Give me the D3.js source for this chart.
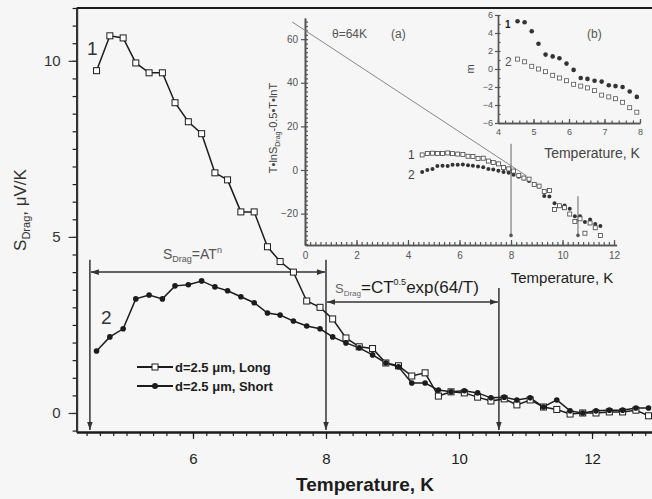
<!DOCTYPE html>
<html>
<head>
<meta charset="utf-8">
<script src="https://cdn.jsdelivr.net/npm/d3@7"></script>
<style>
body { margin: 0; background: #f6f6f6; }
svg { display: block; font-family: "Liberation Sans", Arial, sans-serif; }
</style>
</head>
<body>
<div id="chart"></div>
<script>
// Main panel: drag thermopower vs temperature
const temps = [4.55, 4.75, 4.95, 5.14, 5.34, 5.54, 5.73, 5.93, 6.13, 6.33,
	6.52, 6.72, 6.92, 7.12, 7.31, 7.51, 7.71, 7.91, 8.10, 8.30,
	8.50, 8.70, 8.90, 9.09, 9.29, 9.49, 9.69, 9.88, 10.08, 10.28,
	10.48, 10.68, 10.87, 11.07, 11.27, 11.47, 11.67, 11.86, 12.06, 12.26,
	12.46, 12.66, 12.85];
const sLong = [9.72, 10.71, 10.65, 9.94, 9.66, 9.66, 8.81, 8.27, 7.93, 6.82,
	6.62, 5.71, 5.71, 4.72, 4.30, 4.00, 3.18, 3.00, 2.67, 2.13,
	1.88, 1.83, 1.42, 1.34, 1.05, 1.14, 0.48, 0.60, 0.57, 0.45,
	0.34, 0.40, 0.23, 0.37, 0.17, 0.10, -0.03, 0.00, 0.00, 0.03,
	0.03, 0.08, -0.08];
const sShort = [1.76, 2.16, 2.39, 3.24, 3.35, 3.24, 3.61, 3.64, 3.75, 3.58,
	3.47, 3.30, 3.13, 2.84, 2.78, 2.61, 2.47, 2.39, 2.16, 1.99,
	1.85, 1.65, 1.42, 1.31, 0.85, 0.85, 0.65, 0.60, 0.63, 0.57,
	0.43, 0.45, 0.37, 0.43, 0.17, 0.37, 0.06, 0.00, 0.06, 0.08,
	0.08, 0.14, 0.14];
const mainXTicks = [6, 8, 10, 12];
const mainYTicks = [0, 5, 10];
const seriesNames = ["d=2.5 \u03bcm, Long", "d=2.5 \u03bcm, Short"];

// Inset (a): T*lnS - 0.5*T*lnT vs T
const insetATemps = [4.55, 4.75, 4.95, 5.14, 5.34, 5.54, 5.73, 5.93, 6.13, 6.33,
	6.52, 6.72, 6.92, 7.12, 7.31, 7.51, 7.71, 7.91, 8.10, 8.30,
	8.50, 8.70, 8.90, 9.09, 9.29, 9.49, 9.69, 9.88, 10.08, 10.28,
	10.48, 10.68, 10.87, 11.07, 11.27, 11.47];
const insetALong = [6.9, 7.6, 7.7, 7.6, 7.6, 7.8, 7.5, 7.3, 7.1, 6.3,
	6.2, 5.3, 5.4, 4.1, 3.4, 2.8, 1.1, 0.5, -0.5, -2.5,
	-3.7, -4.2, -6.6, -7.4, -9.9, -9.4, -18.1, -16.4, -17.3, -20.2,
	-23.6, -22.4, -29.0, -24.3, -26.5, -30.0];
const insetAShort = [-0.9, 0.0, 0.4, 1.8, 2.0, 1.8, 2.4, 2.4, 2.5, 2.2,
	2.0, 1.6, 1.2, 0.4, 0.2, -0.4, -0.9, -1.3, -2.2, -3.1,
	-3.9, -5.1, -6.6, -7.6, -11.9, -12.2, -15.2, -16.4, -16.3, -17.8,
	-21.2, -21.2, -23.8, -22.7, -24.8, -25.7];
const fitT = [-0.5, 8.6];		// theta = 64K straight line
const fitV = [67.9, -2.7];
const insetAXTicks = [0, 2, 4, 6, 8, 10, 12];
const insetAYTicks = [-20, 0, 20, 40, 60];

// Inset (b): m vs T
const insetBTemps = [4.55, 4.75, 4.95, 5.14, 5.34, 5.54, 5.73, 5.93, 6.13, 6.33,
	6.52, 6.72, 6.92, 7.12, 7.31, 7.51, 7.71, 7.91];
const insetB1 = [5.3, 5.2, 4.2, 2.8, 1.6, 1.4, 1.2, 0.6, -0.1, -1.0,
	-1.1, -1.3, -1.4, -1.8, -1.9, -2.0, -2.5, -3.1];
const insetB2 = [1.1, 0.8, 0.3, 0.0, -0.3, -0.7, -1.0, -1.3, -1.7, -1.9,
	-2.1, -2.4, -2.9, -3.1, -3.3, -3.7, -4.3, -4.8];
const insetBXTicks = [4, 5, 6, 7, 8];
const insetBYTicks = [-6, -4, -2, 0, 2, 4, 6];

const W = 652, H = 499;
const INK = "#1c1c1c";
const GREY = "#555";

const svg = d3.select("#chart").append("svg")
	.attr("width", W)
	.attr("height", H);

svg.append("rect").attr("width", W).attr("height", H).attr("fill", "#f6f6f6");

const defs = svg.append("defs");
defs.append("marker")
	.attr("id", "arrow")
	.attr("viewBox", "0 0 10 10")
	.attr("refX", 10).attr("refY", 5)
	.attr("markerWidth", 8).attr("markerHeight", 8)
	.attr("markerUnits", "userSpaceOnUse")
	.attr("orient", "auto-start-reverse")
	.append("path").attr("d", "M0,1.5L10,5L0,8.5Z").attr("fill", "#333");

/* style an axis group */
function styleAxis(g, color, lineW, fontSize) {
	g.select(".domain").attr("stroke", color).attr("stroke-width", lineW);
	g.selectAll(".tick line").attr("stroke", color).attr("stroke-width", 1.2);
	g.selectAll(".tick text").attr("fill", color).attr("font-size", fontSize).attr("font-family", null);
}

// ---------------- main panel ----------------
const x = d3.scaleLinear().domain([4.25, 12.95]).range([76.6, 655.2]);
const y = d3.scaleLinear().domain([-0.54, 11.5]).range([432, 8]);

const xMinor = d3.range(22, 65).map(i => i / 5);
const yMinor = d3.range(-1, 24).map(i => i / 2);

svg.append("g").attr("transform", "translate(0,432)")
	.call(d3.axisBottom(x).tickValues(xMinor).tickSize(4).tickSizeOuter(0).tickFormat(""))
	.call(g => styleAxis(g, INK, 2, 14));
svg.append("g").attr("transform", "translate(0,432)")
	.call(d3.axisBottom(x).tickValues(mainXTicks).tickSize(7).tickSizeOuter(0).tickPadding(14))
	.call(g => styleAxis(g, INK, 2, 15));

svg.append("g").attr("transform", "translate(76.6,0)")
	.call(d3.axisLeft(y).tickValues(yMinor).tickSize(4).tickSizeOuter(0).tickFormat(""))
	.call(g => styleAxis(g, INK, 2, 14));
svg.append("g").attr("transform", "translate(76.6,0)")
	.call(d3.axisLeft(y).tickValues(mainYTicks).tickSize(8).tickSizeOuter(0).tickPadding(8))
	.call(g => styleAxis(g, "#333", 2, 15));

// top frame line
svg.append("line")
	.attr("x1", x.range()[0]).attr("x2", W)
	.attr("y1", y.range()[1]).attr("y2", y.range()[1])
	.attr("stroke", INK).attr("stroke-width", 2);

// axis titles
svg.append("text")
	.attr("x", 365).attr("y", 491)
	.attr("text-anchor", "middle")
	.attr("font-size", 19).attr("font-weight", "bold")
	.attr("fill", INK)
	.text("Temperature, K");

const yTitle = svg.append("text")
	.attr("transform", "translate(26,210) rotate(-90)")
	.attr("text-anchor", "middle")
	.attr("font-size", 17).attr("fill", "#333");
yTitle.append("tspan").text("S");
yTitle.append("tspan").attr("font-size", 11).attr("dy", 4).text("Drag");
yTitle.append("tspan").attr("dy", -4).text(", \u03bcV/K");

// annotation arrows
const vArrows = [{t: 4.45, top: 4.35}, {t: 8, top: 4.35}, {t: 10.6, top: 3.55}];
svg.selectAll(".varrow").data(vArrows).enter().append("line")
	.attr("class", "varrow")
	.attr("x1", d => x(d.t)).attr("x2", d => x(d.t))
	.attr("y1", d => y(d.top)).attr("y2", y(-0.48))
	.attr("stroke", "#333").attr("stroke-width", 1.5)
	.attr("marker-end", "url(#arrow)");

const hArrows = [{a: 4.45, b: 8, s: 4.0}, {a: 8, b: 10.6, s: 3.15}];
svg.selectAll(".harrow").data(hArrows).enter().append("line")
	.attr("class", "harrow")
	.attr("x1", d => x(d.a) + 1).attr("x2", d => x(d.b) - 1)
	.attr("y1", d => y(d.s)).attr("y2", d => y(d.s))
	.attr("stroke", "#333").attr("stroke-width", 1.5)
	.attr("marker-start", "url(#arrow)")
	.attr("marker-end", "url(#arrow)");

const lab1 = svg.append("text").attr("x", 163).attr("y", 259).attr("font-size", 14).attr("fill", "#555");
lab1.append("tspan").text("S");
lab1.append("tspan").attr("font-size", 9).attr("dy", 3).text("Drag");
lab1.append("tspan").attr("dy", -3).text("=AT");
lab1.append("tspan").attr("font-size", 9).attr("dy", -6).text("n");

const lab2 = svg.append("text").attr("x", 335).attr("y", 293).attr("font-size", 13).attr("fill", "#666");
lab2.append("tspan").text("S");
lab2.append("tspan").attr("font-size", 8).attr("dy", 3).text("Drag");
lab2.append("tspan").attr("dy", -3).attr("font-size", 17).attr("fill", INK).text("=CT");
lab2.append("tspan").attr("font-size", 9).attr("dy", -8).attr("fill", INK).text("0.5");
lab2.append("tspan").attr("font-size", 17).attr("dy", 8).attr("fill", INK).text("exp(64/T)");

// curves
const line = d3.line().x(d => x(d[0])).y(d => y(d[1]));
const longPts = temps.map((t, i) => [t, sLong[i]]);
const shortPts = temps.map((t, i) => [t, sShort[i]]);

svg.append("path").attr("d", line(longPts)).attr("fill", "none").attr("stroke", INK).attr("stroke-width", 1.5);
svg.append("path").attr("d", line(shortPts)).attr("fill", "none").attr("stroke", INK).attr("stroke-width", 1.5);

svg.selectAll(".sq").data(longPts).enter().append("rect")
	.attr("class", "sq")
	.attr("x", d => x(d[0]) - 3).attr("y", d => y(d[1]) - 3)
	.attr("width", 6).attr("height", 6)
	.attr("fill", "#fff").attr("stroke", INK).attr("stroke-width", 1);
svg.selectAll(".dot").data(shortPts).enter().append("circle")
	.attr("class", "dot")
	.attr("cx", d => x(d[0])).attr("cy", d => y(d[1])).attr("r", 2.8)
	.attr("fill", INK);

svg.append("text").attr("x", 87).attr("y", 55).attr("font-size", 19).attr("fill", "#333").text("1");
svg.append("text").attr("x", 101).attr("y", 324).attr("font-size", 19).attr("fill", "#333").text("2");

// legend
const legend = svg.append("g").attr("transform", "translate(137,367)");
seriesNames.forEach(function(name, i) {
	const row = legend.append("g").attr("transform", "translate(0," + (i * 19) + ")");
	row.append("line").attr("x1", 0).attr("x2", 36).attr("stroke", INK).attr("stroke-width", 2);
	if (i == 0) {
		row.append("rect").attr("x", 15).attr("y", -3).attr("width", 6).attr("height", 6)
			.attr("fill", "#fff").attr("stroke", INK);
	} else {
		row.append("circle").attr("cx", 18).attr("r", 3).attr("fill", INK);
	}
	row.append("text").attr("x", 38).attr("y", 5)
		.attr("font-size", 13).attr("font-weight", "bold").attr("fill", INK)
		.text(name);
});

// ---------------- inset (a) ----------------
const ax = d3.scaleLinear().domain([0, 12.1]).range([305, 616.6]);
const ay = d3.scaleLinear().domain([-34.4, 69.7]).range([245, 18]);

svg.append("g").attr("transform", "translate(0,245)")
	.call(d3.axisBottom(ax).tickValues(d3.range(0, 61).map(i => i / 5)).tickSize(-3).tickSizeOuter(0).tickFormat(""))
	.call(g => styleAxis(g, GREY, 1.6, 10));
svg.append("g").attr("transform", "translate(0,245)")
	.call(d3.axisBottom(ax).tickValues(insetAXTicks).tickSize(-5).tickSizeOuter(0).tickPadding(7))
	.call(g => styleAxis(g, GREY, 1.6, 10));
svg.append("g").attr("transform", "translate(305,0)")
	.call(d3.axisLeft(ay).tickValues(d3.range(-17, 35).map(i => i * 2)).tickSize(-3).tickSizeOuter(0).tickFormat(""))
	.call(g => styleAxis(g, GREY, 1.6, 10));
svg.append("g").attr("transform", "translate(305,0)")
	.call(d3.axisLeft(ay).tickValues(insetAYTicks).tickSize(4).tickSizeOuter(0).tickPadding(3))
	.call(g => styleAxis(g, GREY, 1.6, 10));

const ayTitle = svg.append("text")
	.attr("transform", "translate(277,128) rotate(-90)")
	.attr("text-anchor", "middle")
	.attr("font-size", 11).attr("fill", "#444");
ayTitle.append("tspan").text("T\u2022lnS");
ayTitle.append("tspan").attr("font-size", 7).attr("dy", 3).text("Drag");
ayTitle.append("tspan").attr("dy", -3).text("-0.5\u2022T\u2022lnT");

svg.append("text").attr("x", 562).attr("y", 283).attr("text-anchor", "middle")
	.attr("font-size", 15).attr("fill", INK).text("Temperature, K");

svg.append("line")
	.attr("x1", ax(fitT[0])).attr("y1", ay(fitV[0]))
	.attr("x2", ax(fitT[1])).attr("y2", ay(fitV[1]))
	.attr("stroke", "#888").attr("stroke-width", 1);

const insetMarks = [{t: 8, top: 12}, {t: 10.6, top: -12}];
insetMarks.forEach(function(d) {
	svg.append("line")
		.attr("x1", ax(d.t)).attr("x2", ax(d.t))
		.attr("y1", ay(d.top)).attr("y2", ay(-30))
		.attr("stroke", "#666").attr("stroke-width", 1);
	svg.append("circle").attr("cx", ax(d.t)).attr("cy", ay(-30)).attr("r", 1.8).attr("fill", "#555");
});

svg.append("text").attr("x", 332).attr("y", 38).attr("font-size", 12).attr("fill", GREY).text("\u03b8=64K");
svg.append("text").attr("x", 391).attr("y", 38).attr("font-size", 12).attr("fill", GREY).text("(a)");
svg.append("text").attr("x", 408).attr("y", 159).attr("font-size", 12).attr("fill", "#444").text("1");
svg.append("text").attr("x", 408).attr("y", 179).attr("font-size", 12).attr("fill", "#444").text("2");

const aLong = insetATemps.map((t, i) => [t, insetALong[i]]);
const aShort = insetATemps.map((t, i) => [t, insetAShort[i]]);
svg.selectAll(".adot").data(aShort).enter().append("circle")
	.attr("class", "adot")
	.attr("cx", d => ax(d[0])).attr("cy", d => ay(d[1])).attr("r", 2)
	.attr("fill", "#333");
svg.selectAll(".asq").data(aLong).enter().append("rect")
	.attr("class", "asq")
	.attr("x", d => ax(d[0]) - 2).attr("y", d => ay(d[1]) - 2)
	.attr("width", 4).attr("height", 4)
	.attr("fill", "#fff").attr("stroke", "#444").attr("stroke-width", 0.8);

// ---------------- inset (b) ----------------
const bx = d3.scaleLinear().domain([4, 8]).range([498, 640]);
const by = d3.scaleLinear().domain([-6, 6]).range([123, 15]);

svg.append("g").attr("transform", "translate(0,123)")
	.call(d3.axisBottom(bx).tickValues(d3.range(20, 41).map(i => i / 5)).tickSize(-2.5).tickSizeOuter(0).tickFormat(""))
	.call(g => styleAxis(g, GREY, 1.4, 9));
svg.append("g").attr("transform", "translate(0,123)")
	.call(d3.axisBottom(bx).tickValues(insetBXTicks).tickFormat(d3.format("d")).tickSize(-4).tickSizeOuter(0).tickPadding(6))
	.call(g => styleAxis(g, GREY, 1.4, 9));
svg.append("g").attr("transform", "translate(498,0)")
	.call(d3.axisLeft(by).tickValues(d3.range(-6, 7)).tickSize(-2.5).tickSizeOuter(0).tickFormat(""))
	.call(g => styleAxis(g, GREY, 1.4, 9));
svg.append("g").attr("transform", "translate(498,0)")
	.call(d3.axisLeft(by).tickValues(insetBYTicks).tickFormat(d3.format("d")).tickSize(3).tickSizeOuter(0).tickPadding(2))
	.call(g => styleAxis(g, GREY, 1.4, 9));

svg.append("text")
	.attr("transform", "translate(474,69) rotate(-90)")
	.attr("text-anchor", "middle")
	.attr("font-size", 11).attr("fill", "#444").text("m");
svg.append("text").attr("x", 592).attr("y", 158).attr("text-anchor", "middle")
	.attr("font-size", 14).attr("fill", "#444").text("Temperature, K");
svg.append("text").attr("x", 587).attr("y", 38).attr("font-size", 12).attr("fill", GREY).text("(b)");
svg.append("text").attr("x", 505).attr("y", 28).attr("font-size", 10).attr("font-weight", "bold").attr("fill", INK).text("1");
svg.append("text").attr("x", 505).attr("y", 66).attr("font-size", 12).attr("fill", GREY).text("2");

const b1 = insetBTemps.map((t, i) => [t, insetB1[i]]);
const b2 = insetBTemps.map((t, i) => [t, insetB2[i]]);
svg.selectAll(".bdot").data(b1).enter().append("circle")
	.attr("class", "bdot")
	.attr("cx", d => bx(d[0])).attr("cy", d => by(d[1])).attr("r", 2.3)
	.attr("fill", "#333");
svg.selectAll(".bsq").data(b2).enter().append("rect")
	.attr("class", "bsq")
	.attr("x", d => bx(d[0]) - 2).attr("y", d => by(d[1]) - 2)
	.attr("width", 4).attr("height", 4)
	.attr("fill", "#fff").attr("stroke", "#555").attr("stroke-width", 0.8);
</script>
</body>
</html>
